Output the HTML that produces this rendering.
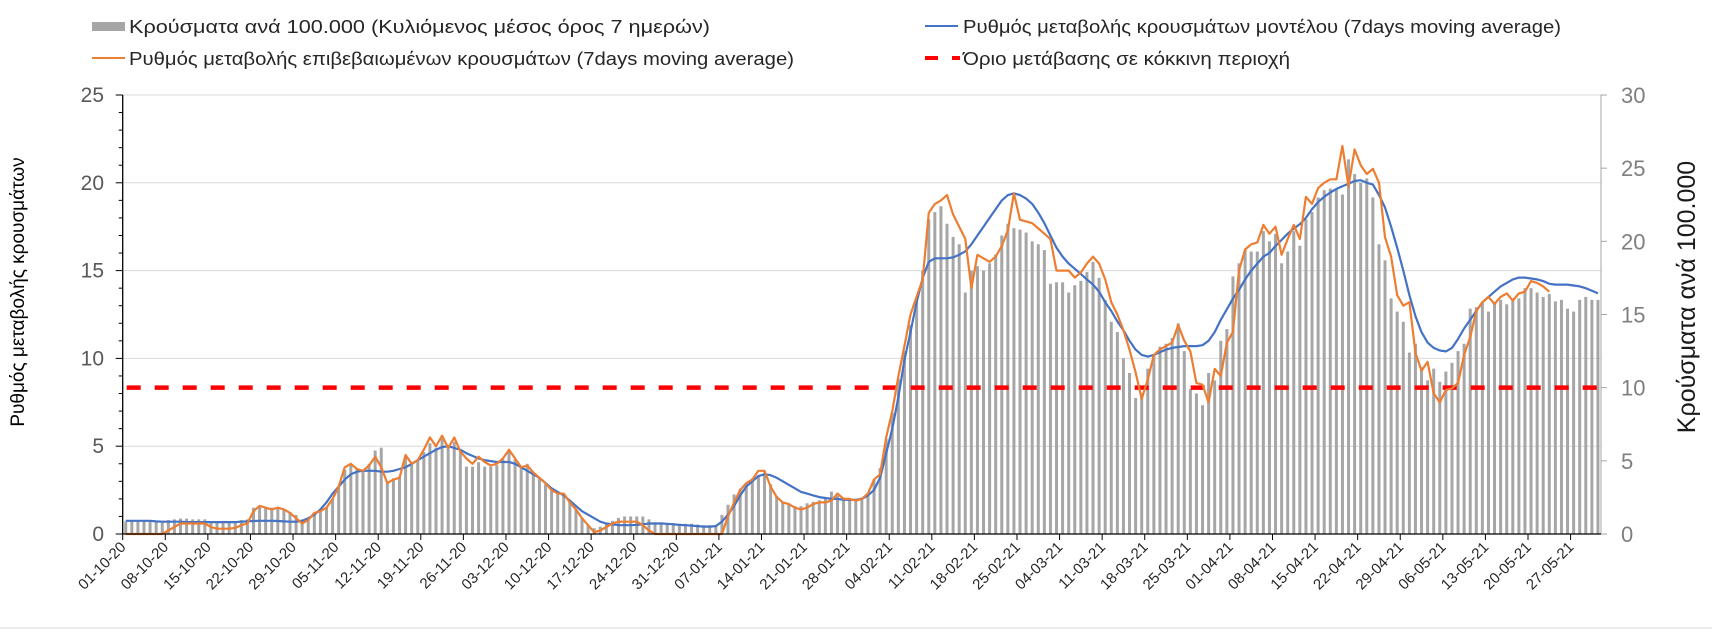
<!DOCTYPE html>
<html><head><meta charset="utf-8">
<style>
html,body{margin:0;padding:0;background:#fff;}
svg{display:block;font-family:"Liberation Sans",Arial,sans-serif;}
</style></head>
<body>
<svg id="chart" width="1712" height="641" viewBox="0 0 1712 641" xmlns="http://www.w3.org/2000/svg">
  <rect x="0" y="0" width="1712" height="641" fill="#fff"/>
  <g id="grid"></g>
  <g id="bars"></g>
  <g id="lines"></g>
  <g id="axes"></g>
  <g id="legend">
    <g>
      <rect x="92" y="22" width="33" height="9" fill="#a6a6a6"/>
      <text x="129" y="33" font-size="18" fill="#262626" textLength="581" lengthAdjust="spacingAndGlyphs">Κρούσματα ανά 100.000 (Κυλιόμενος μέσος όρος 7 ημερών)</text>
    </g>
    <g>
      <line x1="92" y1="58" x2="125" y2="58" stroke="#ed7d31" stroke-width="2"/>
      <text x="129" y="65" font-size="18" fill="#262626" textLength="665" lengthAdjust="spacingAndGlyphs">Ρυθμός μεταβολής επιβεβαιωμένων κρουσμάτων (7days moving average)</text>
    </g>
    <g>
      <line x1="925" y1="26" x2="958" y2="26" stroke="#4472c4" stroke-width="2"/>
      <text x="963" y="33" font-size="18" fill="#262626" textLength="598" lengthAdjust="spacingAndGlyphs">Ρυθμός μεταβολής κρουσμάτων μοντέλου (7days moving average)</text>
    </g>
    <g>
      <line x1="925" y1="58" x2="938" y2="58" stroke="#ff0000" stroke-width="4"/>
      <line x1="952" y1="58" x2="960" y2="58" stroke="#ff0000" stroke-width="4"/>
      <text x="963" y="65" font-size="18" fill="#262626" textLength="327" lengthAdjust="spacingAndGlyphs">Όριο μετάβασης σε κόκκινη περιοχή</text>
    </g>
  </g>
  <text x="0" y="0" font-size="19" fill="#000" text-anchor="middle" transform="translate(24,292) rotate(-90)">Ρυθμός μεταβολής κρουσμάτων</text>
  <text x="0" y="0" font-size="25" fill="#1a1a1a" text-anchor="middle" transform="translate(1695,297) rotate(-90)">Κρούσματα ανά 100.000</text>
  <line x1="0" y1="628" x2="1712" y2="628" stroke="#d9d9d9" stroke-width="1"/>
</svg>
<script>
const tickLabels = ["01-10-20","08-10-20","15-10-20","22-10-20","29-10-20","05-11-20","12-11-20","19-11-20","26-11-20","03-12-20","10-12-20","17-12-20","24-12-20","31-12-20","07-01-21","14-01-21","21-01-21","28-01-21","04-02-21","11-02-21","18-02-21","25-02-21","04-03-21","11-03-21","18-03-21","25-03-21","01-04-21","08-04-21","15-04-21","22-04-21","29-04-21","06-05-21","13-05-21","20-05-21","27-05-21"];
const dayCount = 243;
const leftTicks = [0,5,10,15,20,25];
const rightTicks = [0,5,10,15,20,25,30];
const redThreshold = 10;
const casesPer100k = [
0.85,0.85,0.85,0.85,0.85,0.85,0.85,0.95,1.0,1.05,
1.05,1.0,1.0,1.0,0.85,0.8,0.8,0.8,0.85,0.95,
1.0,1.8,1.9,1.8,1.8,1.8,1.7,1.5,1.3,1.0,
1.1,1.4,1.6,1.8,2.4,3.2,4.4,4.7,4.4,4.3,
4.8,5.7,5.9,3.6,3.8,3.9,5.3,4.8,5.0,5.6,
6.2,5.9,6.5,6.0,6.3,5.6,4.6,4.6,4.9,4.6,
4.6,4.7,5.1,5.7,5.1,4.6,4.8,4.2,3.8,3.4,
3.0,2.7,2.6,2.2,1.7,1.1,0.6,0.4,0.5,0.7,
0.9,1.1,1.2,1.2,1.2,1.2,1.0,0.8,0.8,0.75,
0.75,0.7,0.7,0.7,0.65,0.6,0.6,0.6,1.3,2.0,
2.7,3.1,3.5,3.8,4.0,4.2,3.4,2.6,2.2,2.0,
1.9,1.9,2.1,2.2,2.3,2.5,2.9,2.6,2.5,2.4,
2.4,2.5,2.8,3.7,4.5,6.5,8.3,10.6,12.5,14.3,
16.0,18.0,21.5,22.0,22.4,21.2,20.3,19.8,16.5,18.0,
18.3,18.0,18.5,19.1,20.4,21.2,20.9,20.8,20.6,20.0,
19.8,19.4,17.1,17.2,17.2,16.5,17.0,17.3,17.9,18.6,
17.5,16.0,14.5,13.8,12.0,11.0,9.3,9.6,11.3,12.2,
12.8,13.0,13.4,14.4,12.5,9.9,9.6,8.8,11.0,10.5,
13.2,14.0,17.6,18.5,19.4,19.3,19.3,20.7,20.0,20.5,
18.5,19.3,20.7,19.7,21.5,22.0,23.0,23.5,23.6,23.6,
23.2,25.6,24.6,24.0,24.3,23.0,19.8,18.7,16.1,15.2,
14.5,12.4,13.0,11.4,10.5,11.3,10.4,11.1,11.7,12.5,
13.0,15.4,15.5,15.8,15.2,15.8,16.0,15.7,16.0,16.1,
16.8,16.8,16.5,16.2,16.4,15.9,16.0,15.4,15.2,16.0,
16.2,16.0,16.0];
const confirmedRate = [
0,0,0,0,0,0,0,0.2,0.4,0.6,
0.6,0.6,0.6,0.6,0.4,0.3,0.3,0.3,0.35,0.5,
0.6,1.3,1.6,1.5,1.4,1.5,1.4,1.2,0.9,0.6,
0.8,1.2,1.3,1.5,2.0,2.7,3.8,4.0,3.7,3.6,
3.9,4.4,3.8,2.9,3.1,3.2,4.5,4.0,4.2,4.8,
5.5,5.0,5.6,4.9,5.5,4.7,4.3,4.0,4.4,4.1,
3.9,4.0,4.3,4.8,4.3,3.8,3.9,3.5,3.2,2.9,
2.5,2.3,2.3,1.8,1.4,0.9,0.5,0.1,0.2,0.4,
0.6,0.7,0.7,0.7,0.7,0.5,0.2,0,0,0,
0,0,0,0,0,0,0,0,0,1.0,
1.8,2.5,2.9,3.1,3.6,3.6,2.7,2.1,1.8,1.7,
1.5,1.4,1.5,1.7,1.8,1.8,1.9,2.3,2.0,2.0,
1.9,2.0,2.3,3.1,3.4,5.5,7.0,9.0,10.7,12.5,
13.5,14.5,18.3,18.8,19.0,19.3,18.2,17.5,16.8,14.0,
15.9,15.7,15.5,15.8,16.4,17.3,19.4,17.9,17.8,17.7,
17.4,17.1,16.8,15.0,15.0,15.0,14.6,14.9,15.4,15.8,
15.4,14.5,13.2,12.5,11.6,10.5,9.2,7.7,8.8,10.2,
10.5,10.7,10.9,11.9,11.0,10.4,8.6,8.5,7.5,9.4,
9.0,10.9,11.5,15.0,16.2,16.5,16.6,17.6,17.1,17.5,
15.9,16.8,17.6,16.8,19.2,18.8,19.7,20.0,20.2,20.2,
22.1,19.8,21.9,21.0,20.5,20.8,20.0,16.9,15.8,13.6,
13.0,13.2,10.3,9.3,9.8,8.0,7.5,8.2,8.3,8.6,
10.2,11.2,12.7,13.2,13.5,13.1,13.5,13.7,13.3,13.7,
13.8,14.4,14.3,14.1,13.8];
const modelRate = [
0.75,0.75,0.75,0.75,0.75,0.72,0.7,0.7,0.7,0.7,
0.68,0.68,0.68,0.68,0.68,0.68,0.68,0.68,0.68,0.7,
0.72,0.74,0.75,0.75,0.75,0.74,0.72,0.7,0.7,0.75,
0.9,1.1,1.4,1.8,2.3,2.7,3.1,3.4,3.55,3.6,
3.6,3.6,3.55,3.55,3.6,3.7,3.8,4.0,4.2,4.4,
4.6,4.8,4.95,5.0,4.9,4.8,4.6,4.45,4.3,4.2,
4.15,4.1,4.1,4.1,4.0,3.8,3.6,3.4,3.2,2.9,
2.6,2.4,2.2,1.9,1.6,1.3,1.1,0.9,0.7,0.6,
0.55,0.5,0.5,0.5,0.52,0.55,0.6,0.6,0.6,0.58,
0.55,0.52,0.5,0.48,0.45,0.42,0.42,0.45,0.7,1.1,
1.6,2.2,2.7,3.0,3.3,3.4,3.35,3.2,3.0,2.8,
2.6,2.4,2.3,2.2,2.1,2.05,2.0,2.0,1.95,1.95,
1.95,2.0,2.2,2.5,3.2,4.6,6.0,7.8,9.9,11.5,
13.2,14.6,15.5,15.7,15.7,15.7,15.75,15.9,16.1,16.5,
17.0,17.5,18.0,18.5,19.0,19.3,19.4,19.3,19.1,18.8,
18.3,17.7,17.0,16.3,15.8,15.4,15.1,14.8,14.5,14.2,
13.8,13.2,12.7,12.1,11.6,11.0,10.5,10.2,10.1,10.2,
10.35,10.5,10.6,10.65,10.7,10.7,10.7,10.75,11.0,11.5,
12.2,12.8,13.4,13.9,14.5,15.0,15.4,15.8,16.0,16.4,
16.75,17.1,17.4,17.65,18.0,18.5,18.9,19.2,19.45,19.65,
19.8,19.95,20.1,20.15,20.0,19.9,19.3,18.6,17.5,16.3,
15.0,13.6,12.4,11.5,10.9,10.6,10.45,10.4,10.6,11.1,
11.7,12.2,12.7,13.2,13.5,13.8,14.1,14.3,14.5,14.6,
14.6,14.55,14.5,14.4,14.25,14.2,14.2,14.2,14.15,14.1,
14.0,13.85,13.7];

const NS = "http://www.w3.org/2000/svg";
const X0 = 122.7, X1 = 1601, Y0 = 534, YTOP = 95;
const dayW = (X1 - X0) / dayCount;
function xEdge(i){ return X0 + i * dayW; }
function xMid(i){ return X0 + (i + 0.5) * dayW; }
function yLeft(v){ return Y0 - v / 25 * (Y0 - YTOP); }
function yRight(v){ return Y0 - v / 30 * (Y0 - YTOP); }
function mk(tag, attrs, parent){
  const e = document.createElementNS(NS, tag);
  for (const k in attrs) e.setAttribute(k, attrs[k]);
  parent.appendChild(e);
  return e;
}
const grid = document.getElementById('grid');
const bars = document.getElementById('bars');
const lines = document.getElementById('lines');
const axes = document.getElementById('axes');

leftTicks.forEach(function(t){
  if (t === 0) return;
  const g = mk('line', {x1:X0, x2:X1, y1:yLeft(t), y2:yLeft(t), stroke:'#d9d9d9', 'stroke-width':1}, grid);
  
  
});

casesPer100k.forEach(function(v, i){
  const y = yRight(v);
  const r = mk('rect', {x:xMid(i) - 1.5, y:y, width:3, height:Y0 - y, fill:'#a6a6a6'}, bars);
  
  
});

const th = mk('line', {x1:X0 + 4, x2:X1, y1:yRight(redThreshold), y2:yRight(redThreshold), stroke:'#ff0000', 'stroke-width':4.5, 'stroke-dasharray':'14 14'}, lines);



function pathFrom(arr){
  return arr.map(function(v, i){ return (i ? 'L' : 'M') + xMid(i).toFixed(1) + ',' + yLeft(v).toFixed(1); }).join(' ');
}
const pm = mk('path', {d:pathFrom(modelRate), fill:'none', stroke:'#4472c4', 'stroke-width':2.2, 'stroke-linejoin':'round'}, lines);


const pc = mk('path', {d:pathFrom(confirmedRate), fill:'none', stroke:'#ed7d31', 'stroke-width':2.2, 'stroke-linejoin':'round'}, lines);



// left axis
const la = mk('line', {x1:X0, x2:X0, y1:YTOP, y2:Y0, stroke:'#000', 'stroke-width':1.3}, axes);


for (let v = 0; v <= 25; v++){
  const len = (v % 5 === 0) ? 7 : 4;
  mk('line', {x1:X0 - len, x2:X0, y1:yLeft(v), y2:yLeft(v), stroke:'#000', 'stroke-width':1}, axes);
}
leftTicks.forEach(function(t){
  const tx = mk('text', {x:104, y:yLeft(t) + 7, 'font-size':21, fill:'#595959', 'text-anchor':'end'}, axes);
  tx.textContent = t;
  
  
});
// right axis
const ra = mk('line', {x1:X1, x2:X1, y1:YTOP, y2:Y0, stroke:'#a6a6a6', 'stroke-width':1}, axes);


rightTicks.forEach(function(t){
  mk('line', {x1:X1, x2:X1 + 6, y1:yRight(t), y2:yRight(t), stroke:'#a6a6a6', 'stroke-width':1}, axes);
  const tx = mk('text', {x:1621, y:yRight(t) + 8, 'font-size':22, fill:'#7f7f7f'}, axes);
  tx.textContent = t;
  
  
});
// x axis
const xa = mk('line', {x1:X0, x2:X1, y1:Y0, y2:Y0, stroke:'#000', 'stroke-width':1.3}, axes);


tickLabels.forEach(function(lbl, k){
  const x = xEdge(k * 7);
  mk('line', {x1:x, x2:x, y1:Y0, y2:Y0 + 6, stroke:'#000', 'stroke-width':1}, axes);
  const tx = mk('text', {x:0, y:0, 'font-size':15, fill:'#262626', 'text-anchor':'end', transform:'translate(' + (x + 4) + ',' + (Y0 + 14) + ') rotate(-45)'}, axes);
  tx.textContent = lbl;
  
  
});
</script>
</body></html>
